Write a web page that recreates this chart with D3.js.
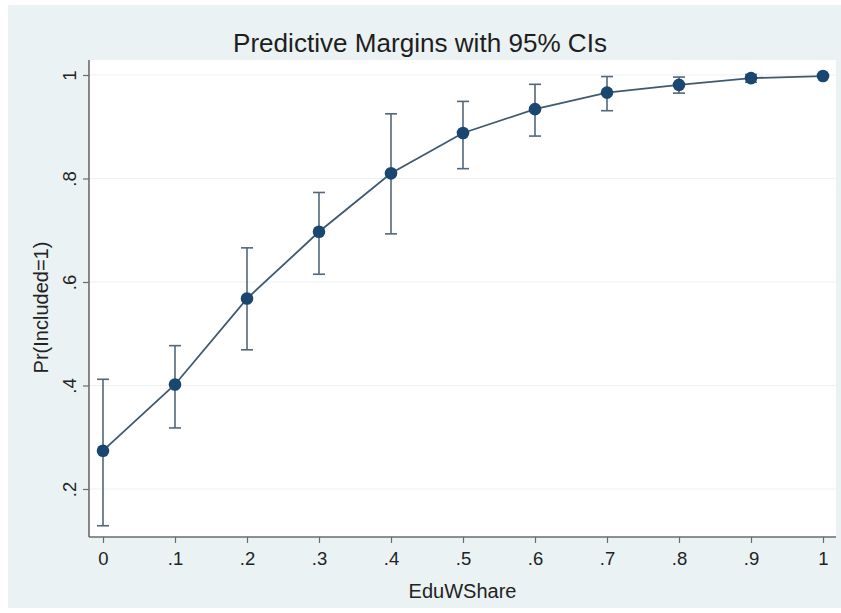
<!DOCTYPE html>
<html>
<head>
<meta charset="utf-8">
<script src="https://cdn.jsdelivr.net/npm/d3@7"></script>
<style>
  html, body { margin: 0; padding: 0; background: #ffffff; }
  svg { display: block; }
  text { font-family: "Liberation Sans", Arial, Helvetica, sans-serif; }
</style>
</head>
<body>
<svg id="chart" width="841" height="613"></svg>
<script>
// ---- data ----
const xValues = [0, 0.1, 0.2, 0.3, 0.4, 0.5, 0.6, 0.7, 0.8, 0.9, 1];
const margins = [0.274, 0.402, 0.568, 0.697, 0.810, 0.888, 0.934, 0.966, 0.981, 0.994, 0.998];
const ciLower = [0.129, 0.318, 0.469, 0.615, 0.693, 0.819, 0.882, 0.931, 0.965, 0.986, 0.996];
const ciUpper = [0.412, 0.477, 0.666, 0.773, 0.925, 0.949, 0.982, 0.997, 0.996, 1.001, 1.000];
const xTicks = [0, 0.1, 0.2, 0.3, 0.4, 0.5, 0.6, 0.7, 0.8, 0.9, 1];
const xTickLabels = ["0", ".1", ".2", ".3", ".4", ".5", ".6", ".7", ".8", ".9", "1"];
const yTicks = [0.2, 0.4, 0.6, 0.8, 1];
const yTickLabels = [".2", ".4", ".6", ".8", "1"];
const titleText = "Predictive Margins with 95% CIs";
const xTitle = "EduWShare";
const yTitle = "Pr(Included=1)";

// ---- layout ----
const W = 841, H = 613;
const plot = { left: 89, right: 836, top: 60, bottom: 537 };
const navy = "#1a476f";
const FONT = "'Liberation Sans', Arial, Helvetica, sans-serif";

const svg = d3.select("#chart");

// outer graph region
svg.append("rect").attr("x", 8).attr("y", 5).attr("width", W - 8).attr("height", H - 10)
  .attr("fill", "#eaf2f3");

// plot region
svg.append("rect").attr("x", plot.left).attr("y", plot.top)
  .attr("width", plot.right - plot.left).attr("height", plot.bottom - plot.top)
  .attr("fill", "#ffffff");

const x = d3.scaleLinear().domain([0, 1]).range([103, 823]);
const y = d3.scaleLinear().domain([0.2, 1]).range([489, 75]);

// gridlines
svg.append("g").selectAll("line").data(yTicks).join("line")
  .attr("x1", plot.left).attr("x2", plot.right)
  .attr("y1", d => y(d)).attr("y2", d => y(d))
  .attr("stroke", "#eaf2f3").attr("stroke-width", 1.2);

// axes
const xAxis = d3.axisBottom(x).tickValues(xTicks)
  .tickFormat((d, i) => xTickLabels[i]).tickSize(6).tickSizeOuter(0).tickPadding(9);
const gx = svg.append("g").attr("transform", `translate(0,${plot.bottom})`).call(xAxis);
gx.select(".domain").attr("d", `M${plot.left},0H${plot.right}`).attr("stroke", "#6b6b6b").attr("stroke-width", 1.6);
gx.selectAll(".tick line").attr("stroke", "#6b6b6b").attr("stroke-width", 1.2);
gx.selectAll(".tick text").attr("font-size", 18.5).attr("fill", "#222")
  .attr("font-family", FONT);

const yAxis = d3.axisLeft(y).tickValues(yTicks)
  .tickFormat((d, i) => yTickLabels[i]).tickSize(6).tickSizeOuter(0).tickPadding(6);
const gy = svg.append("g").attr("transform", `translate(${plot.left},0)`).call(yAxis);
gy.select(".domain").attr("d", `M0,${plot.top}V${plot.bottom}`).attr("stroke", "#6b6b6b").attr("stroke-width", 1.6);
gy.selectAll(".tick line").attr("stroke", "#6b6b6b").attr("stroke-width", 1.2);
gy.selectAll(".tick text").attr("font-size", 18.5).attr("fill", "#222")
  .attr("font-family", FONT)
  .attr("text-anchor", "middle").attr("x", 0).attr("dy", 0)
  .attr("transform", "translate(-13,0) rotate(-90)");

// CI error bars
const ciColor = "#52677a";
const ci = svg.append("g");
xValues.forEach((xv, i) => {
  ci.append("line").attr("x1", x(xv)).attr("x2", x(xv))
    .attr("y1", y(ciLower[i])).attr("y2", y(ciUpper[i]))
    .attr("stroke", ciColor).attr("stroke-width", 1.6);
  [ciLower[i], ciUpper[i]].forEach(v => {
    ci.append("line").attr("x1", x(xv) - 6).attr("x2", x(xv) + 6)
      .attr("y1", y(v)).attr("y2", y(v))
      .attr("stroke", ciColor).attr("stroke-width", 1.6);
  });
});

// connecting line
const line = d3.line().x((d, i) => x(xValues[i])).y(d => y(d));
svg.append("path").datum(margins).attr("d", line)
  .attr("fill", "none").attr("stroke", "#3f5a70").attr("stroke-width", 1.8);

// markers
svg.append("g").selectAll("circle").data(margins).join("circle")
  .attr("cx", (d, i) => x(xValues[i])).attr("cy", d => y(d)).attr("r", 6.3)
  .attr("fill", navy);

// titles
svg.append("text").attr("x", 420).attr("y", 52)
  .attr("text-anchor", "middle").attr("font-size", 25).attr("fill", "#1e1e1e")
  .attr("textLength", 374).attr("lengthAdjust", "spacingAndGlyphs")
  .text(titleText);

svg.append("text").attr("x", (plot.left + plot.right) / 2).attr("y", 598)
  .attr("text-anchor", "middle").attr("font-size", 20).attr("fill", "#222")
  .text(xTitle);

svg.append("text").attr("transform", `translate(48,${(plot.top + plot.bottom) / 2 + 9}) rotate(-90)`)
  .attr("text-anchor", "middle").attr("font-size", 20).attr("fill", "#222")
  .text(yTitle);
</script>
</body>
</html>
